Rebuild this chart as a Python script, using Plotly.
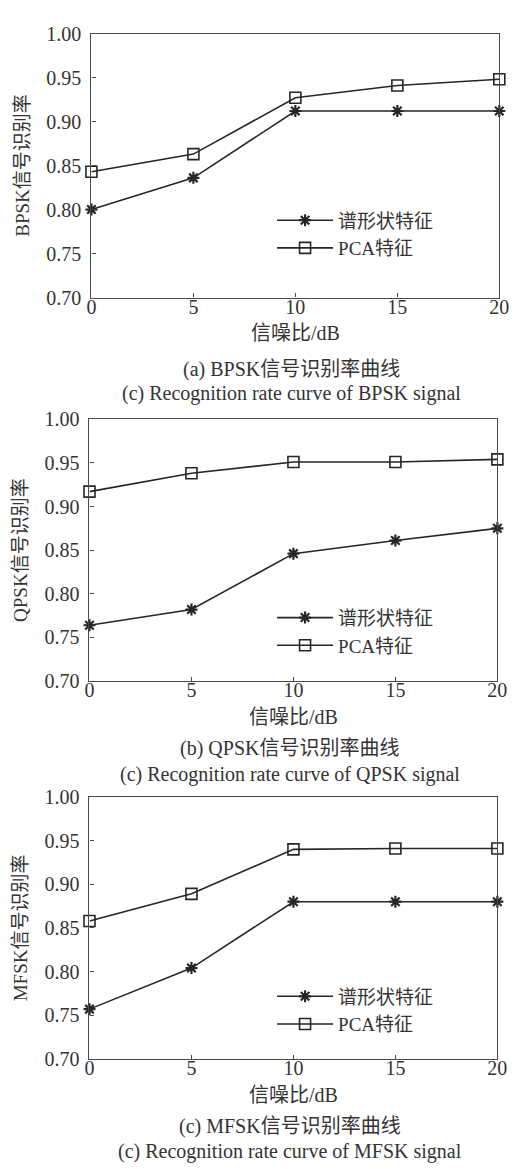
import plotly.graph_objects as go

# Signal-to-noise ratio (dB) sampled for every modulation type
snr_db = [0, 5, 10, 15, 20]

# Recognition rates: spectral-shape features vs. PCA features
bpsk_spectral = [0.800, 0.836, 0.912, 0.912, 0.912]
bpsk_pca = [0.843, 0.863, 0.927, 0.941, 0.948]

qpsk_spectral = [0.764, 0.782, 0.846, 0.861, 0.875]
qpsk_pca = [0.917, 0.938, 0.951, 0.951, 0.954]

mfsk_spectral = [0.757, 0.804, 0.880, 0.880, 0.880]
mfsk_pca = [0.858, 0.889, 0.940, 0.941, 0.941]

series_names = ["谱形状特征", "PCA特征"]
y_titles = ["BPSK信号识别率", "QPSK信号识别率", "MFSK信号识别率"]
captions_cn = ["(a) BPSK信号识别率曲线", "(b) QPSK信号识别率曲线", "(c) MFSK信号识别率曲线"]
captions_en = [
    "(c) Recognition rate curve of BPSK signal",
    "(c) Recognition rate curve of QPSK signal",
    "(c) Recognition rate curve of MFSK signal",
]
x_title = "信噪比/dB"
y_ticks = [0.70, 0.75, 0.80, 0.85, 0.90, 0.95, 1.00]
x_ticks = [0, 5, 10, 15, 20]

W, H = 520, 1169
FONT = "Liberation Serif, Times New Roman, Noto Sans CJK SC, serif"
INK = "#262626"
FRAME = "#4a4a4a"
TEXT = "#333333"


def py(px):
    """Convert a pixel row (from the top) into paper coordinates."""
    return 1 - px / H


def px_(px):
    return px / W


# Plot-area boxes (left, right, top, bottom) in pixels
boxes = [
    (89, 509, 23, 292),
    (87, 507, 416, 683),
    (87, 507, 801, 1068),
]
caption_rows = [(365, 390), (752, 778), (1137, 1162)]
legend_tops = [194, 599, 985]

panels = [
    (bpsk_spectral, bpsk_pca),
    (qpsk_spectral, qpsk_pca),
    (mfsk_spectral, mfsk_pca),
]

fig = go.Figure()
layout = dict(
    width=W,
    height=H,
    margin=dict(l=0, r=0, t=0, b=0),
    paper_bgcolor="white",
    plot_bgcolor="white",
    font=dict(family=FONT, color=TEXT, size=19),
    annotations=[],
)

for i, ((spec, pca), (l, r, t, b)) in enumerate(zip(panels, boxes)):
    n = i + 1
    xa = "x" if n == 1 else f"x{n}"
    ya = "y" if n == 1 else f"y{n}"
    leg = "legend" if n == 1 else f"legend{n}"

    fig.add_trace(go.Scatter(
        x=snr_db, y=spec, name=series_names[0], mode="lines+markers",
        xaxis=xa, yaxis=ya, legend=leg, cliponaxis=False,
        line=dict(color=INK, width=1.6),
        marker=dict(symbol="asterisk-open", size=10,
                    line=dict(color=INK, width=2.2)),
    ))
    fig.add_trace(go.Scatter(
        x=snr_db, y=pca, name=series_names[1], mode="lines+markers",
        xaxis=xa, yaxis=ya, legend=leg, cliponaxis=False,
        line=dict(color=INK, width=1.6),
        marker=dict(symbol="square-open", size=11,
                    line=dict(color=INK, width=1.6)),
    ))

    xkey = "xaxis" if n == 1 else f"xaxis{n}"
    ykey = "yaxis" if n == 1 else f"yaxis{n}"
    layout[xkey] = dict(
        domain=[px_(l), px_(r)], anchor=ya, range=[0, 20],
        tickvals=x_ticks, ticks="inside", ticklen=4, tickcolor=FRAME,
        showline=True, linecolor=FRAME, linewidth=1.2, mirror=True,
        showgrid=False, zeroline=False, ticklabelstandoff=-9,
        tickfont=dict(size=20, family=FONT),
        title=dict(text=x_title, font=dict(size=20, family=FONT), standoff=9),
    )
    layout[ykey] = dict(
        domain=[py(b), py(t)], anchor=xa, range=[0.70, 1.00],
        tickvals=y_ticks, tickformat=".2f", ticks="inside", ticklen=4,
        tickcolor=FRAME, showline=True, linecolor=FRAME, linewidth=1.2,
        mirror=True, showgrid=False, zeroline=False, ticklabelstandoff=5,
        tickfont=dict(size=20, family=FONT),
        title=dict(text=y_titles[i], font=dict(size=19, family=FONT), standoff=11),
    )
    layout[leg] = dict(
        x=px_(275), y=py(legend_tops[i]), xanchor="left", yanchor="top",
        bgcolor="rgba(0,0,0,0)", borderwidth=0,
        font=dict(size=19, family=FONT, color=TEXT),
        itemwidth=56, tracegroupgap=0,
    )

    cy1, cy2 = caption_rows[i]
    cx = px_((l + r) / 2 - 4)
    layout["annotations"].append(dict(
        text=captions_cn[i], x=cx, y=py(cy1), xref="paper", yref="paper",
        showarrow=False, xanchor="center", yanchor="middle",
        font=dict(size=20, family=FONT, color=TEXT),
    ))
    layout["annotations"].append(dict(
        text=captions_en[i], x=cx, y=py(cy2), xref="paper", yref="paper",
        showarrow=False, xanchor="center", yanchor="middle",
        font=dict(size=20, family=FONT, color=TEXT),
    ))

fig.update_layout(**layout)
fig.write_html("out.html")
